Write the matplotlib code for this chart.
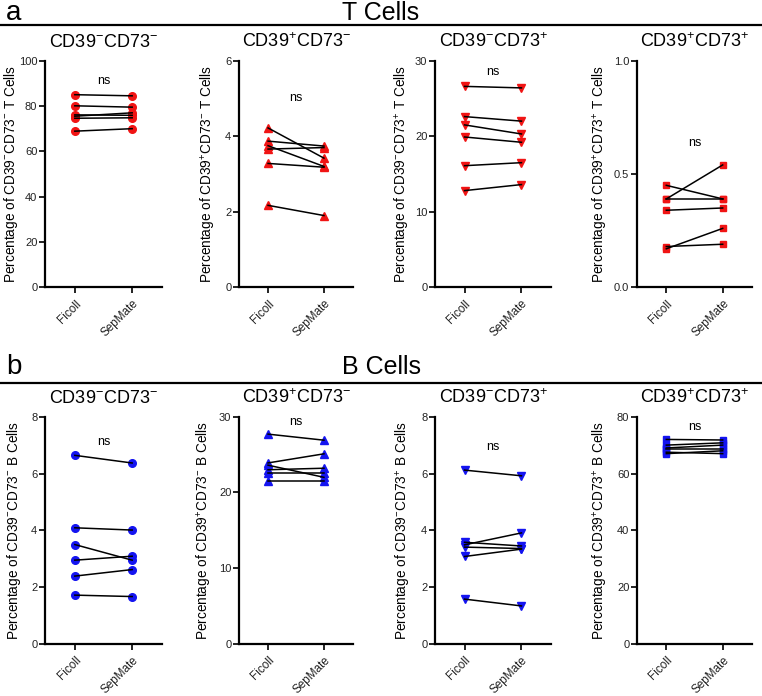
import numpy as np
import matplotlib
matplotlib.use("Agg")
import matplotlib.pyplot as plt

plt.rcParams['font.family'] = ['Liberation Sans', 'DejaVu Sans']
plt.rcParams['mathtext.fontset'] = 'custom'
plt.rcParams['mathtext.rm'] = 'Liberation Sans'
plt.rcParams['mathtext.it'] = 'Liberation Sans:italic'
plt.rcParams['mathtext.bf'] = 'Liberation Sans:bold'

groups = ['Ficoll', 'SepMate']

# T cells
t_nn_ficoll = [85.0, 80.1, 76.1, 75.5, 74.6, 68.9]
t_nn_sepmate = [84.5, 79.5, 75.9, 77.0, 74.8, 70.0]
t_pn_ficoll = [4.22, 3.87, 3.75, 3.66, 3.28, 2.17]
t_pn_sepmate = [3.42, 3.74, 3.20, 3.70, 3.18, 1.90]
t_np_ficoll = [26.6, 22.6, 21.5, 19.9, 16.1, 12.8]
t_np_sepmate = [26.4, 22.0, 20.3, 19.2, 16.5, 13.6]
t_pp_ficoll = [0.45, 0.39, 0.39, 0.34, 0.18, 0.17]
t_pp_sepmate = [0.39, 0.54, 0.39, 0.35, 0.19, 0.26]

# B cells
b_nn_ficoll = [6.64, 4.09, 3.50, 2.95, 2.39, 1.72]
b_nn_sepmate = [6.37, 4.01, 2.95, 3.09, 2.62, 1.67]
b_pn_ficoll = [27.7, 23.9, 23.6, 23.0, 22.6, 21.5]
b_pn_sepmate = [26.9, 25.1, 22.0, 23.2, 22.6, 21.5]
b_np_ficoll = [6.12, 3.58, 3.49, 3.41, 3.08, 1.58]
b_np_sepmate = [5.92, 3.45, 3.91, 3.36, 3.34, 1.34]
b_pp_ficoll = [72.0, 70.0, 69.0, 68.5, 67.0, 67.5]
b_pp_sepmate = [71.8, 70.8, 70.0, 68.5, 68.0, 67.0]

signs = [('-', '-'), ('+', '-'), ('-', '+'), ('+', '+')]
markers = ['o', '^', 'v', 's']
msizes = [5.5, 6.0, 6.0, 5.0]
t_data = [(t_nn_ficoll, t_nn_sepmate), (t_pn_ficoll, t_pn_sepmate),
          (t_np_ficoll, t_np_sepmate), (t_pp_ficoll, t_pp_sepmate)]
b_data = [(b_nn_ficoll, b_nn_sepmate), (b_pn_ficoll, b_pn_sepmate),
          (b_np_ficoll, b_np_sepmate), (b_pp_ficoll, b_pp_sepmate)]
t_ylims = [100, 6, 30, 1.0]
t_ticks = [np.arange(0, 101, 20), np.arange(0, 7, 2), np.arange(0, 31, 10), [0.0, 0.5, 1.0]]
t_ns = [91, 5.0, 28.5, 0.635]
b_ylims = [8, 30, 8, 80]
b_ticks = [np.arange(0, 9, 2), np.arange(0, 31, 10), np.arange(0, 9, 2), np.arange(0, 81, 20)]
b_ns = [7.12, 29.3, 6.94, 76.5]

W, H = 762, 696
fig = plt.figure(figsize=(W / 100, H / 100), dpi=100)

lefts = [45, 239, 435, 637]
right_px = [162, 353, 551, 752]
t_label_gap = [34, 30, 32, 36]
b_label_gap = [31, 34, 31, 36]


def cd_label(s1, s2):
    return 'CD39$^{%s}$CD73$^{%s}$' % (s1, s2)


def draw_row(data, ylims, ticks, ns_y, top_px, bot_px, color, cell, gaps):
    for i in range(4):
        l = lefts[i]
        w = right_px[i] - l
        ax = fig.add_axes([l / W, 1 - bot_px / H, w / W, (bot_px - top_px) / H])
        fic, sep = data[i]
        ax.plot([0] * len(fic), fic, linestyle='none', marker=markers[i],
                color=color, markersize=msizes[i], zorder=2, clip_on=False)
        ax.plot([1] * len(sep), sep, linestyle='none', marker=markers[i],
                color=color, markersize=msizes[i], zorder=2, clip_on=False)
        for a, b in zip(fic, sep):
            ax.plot([0, 1], [a, b], color='black', lw=1.1, zorder=3)
        ax.set_xlim(-0.52, 1.52)
        ax.set_ylim(0, ylims[i])
        ax.set_yticks(ticks[i])
        if ylims[i] == 1.0:
            ax.set_yticklabels(['%.1f' % v for v in ticks[i]])
        ax.set_xticks([0, 1])
        ax.set_xticklabels(groups, rotation=45, ha='right', rotation_mode='anchor')
        for s in ['top', 'right']:
            ax.spines[s].set_visible(False)
        for s in ['left', 'bottom']:
            ax.spines[s].set_linewidth(1.6)
        ax.tick_params(width=1.4, length=4.5, labelsize=8, colors='#222222', pad=1)
        ax.tick_params(axis='x', pad=3, labelsize=8.5)
        ax.set_ylabel('Percentage of ' + cd_label(*signs[i]) + ' ' + cell + ' Cells',
                      fontsize=9.8, va='center')
        ax.yaxis.set_label_coords(-gaps[i] / w, 0.5)
        ax.set_title(cd_label(*signs[i]), fontsize=13, pad=10)
        ax.text(0.5, ns_y[i], 'ns', ha='center', va='center', fontsize=9)


draw_row(t_data, t_ylims, t_ticks, t_ns, 60.7, 287.3, '#f01414', 'T', t_label_gap)
draw_row(b_data, b_ylims, b_ticks, b_ns, 416.7, 644, '#1414f0', 'B', b_label_gap)

# section headers
for y_base, y_line, letter, name in [(20.5, 25, 'a', 'T Cells'), (374, 383, 'b', 'B Cells')]:
    fig.text(6 / W, 1 - y_base / H, letter, fontsize=20, ha='left', va='baseline')
    fig.text(0.5, 1 - min(y_base, 19.5) / H if y_base < 30 else 1 - y_base / H, name,
             fontsize=18, ha='center', va='baseline')
    fig.add_artist(plt.Line2D([0, 1], [1 - y_line / H] * 2, color='black', lw=1.6,
                              transform=fig.transFigure))

fig.savefig('out.png', dpi=100)
